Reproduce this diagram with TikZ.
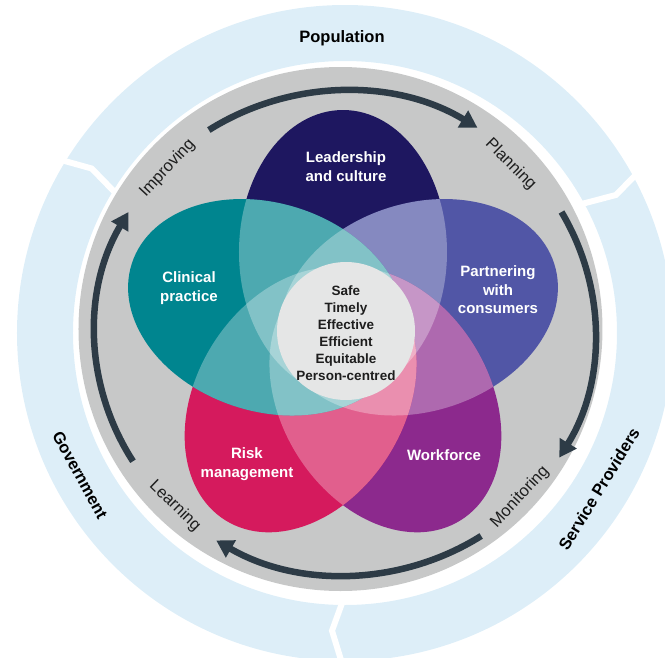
\documentclass[tikz,border=0pt]{standalone}
\usepackage{fontspec}
\setmainfont{Liberation Sans}
\usetikzlibrary{arrows.meta}
\definecolor{bb}{RGB}{221,238,248}
\definecolor{gg}{RGB}{199,200,200}
\definecolor{ar}{RGB}{45,59,70}
\definecolor{tx}{RGB}{30,30,30}
\definecolor{md}{RGB}{229,230,230}
\definecolor{ld}{RGB}{30,23,96}
\definecolor{pc}{RGB}{81,86,166}
\definecolor{wf}{RGB}{140,41,141}
\definecolor{rm}{RGB}{213,26,93}
\definecolor{cp}{RGB}{0,133,143}
\def\dist{80}
\def\ra{142}
\def\rb{104}
\newcommand{\petal}[3]{\fill[#2,rotate=#1] (\dist,0) ellipse [x radius=\ra, y radius=\rb];
	\foreach \j in {#3} {\begin{scope}
		\clip[rotate=#1] (\dist,0) ellipse [x radius=\ra, y radius=\rb];
		\fill[white,opacity=.3,rotate=\j] (\dist,0) ellipse [x radius=\ra, y radius=\rb];
	\end{scope}}}
\newcommand{\cycarrow}[2]{\draw[cyc] (2,-1) ++(#1:250 and 242) arc [start angle=#1, end angle=#2, x radius=250, y radius=242];}

\begin{document}
\begin{tikzpicture}[x=1pt,y=1pt,
	cyc/.style={ar,line width=6.5pt,-{Triangle[length=17pt,width=19pt]}},
	gap/.style={white,line width=6pt},
	lbl/.style={text=white,align=center,font=\bfseries\fontsize{15}{18.5}\selectfont},
	step lbl/.style={text=tx,font=\fontsize{16.5}{18}\selectfont},
	ring lbl/.style={text=black,font=\bfseries\fontsize{16.5}{19}\selectfont}]
\useasboundingbox (-343,-325) rectangle (322,332);

\fill[bb,even odd rule,shift={(2,-1)}] (0,0) circle [radius=328] (0,0) circle [radius=272];
\draw[gap,shift={(2,-1)}] (149:262) -- (147:302) -- (149:340);
\draw[gap,shift={(2,-1)}] (29:262) -- (27:304) -- (29:340);
\draw[gap,shift={(2,-1)}] (270:262) -- (267.5:298) -- (270:340);
\fill[gg] (-2.5,3) circle [radius=262];

\cycarrow{123}{58}
\cycarrow{30}{-31}
\cycarrow{-57}{-121}
\cycarrow{-148}{-210}

\petal{90}{ld}{}
\petal{18}{pc}{90}
\petal{-58}{wf}{90,18}
\petal{-122}{rm}{90,18,-58}
\petal{162}{cp}{90,18,-58,-122}
\fill[md] (3,1) circle [radius=69];

\node[lbl] (lead) at (3,165.5) {Leadership\\and culture};
\node[lbl] (clin) at (-154,44) {Clinical\\practice};
\node[lbl] (part) at (155,42) {Partnering\\with\\consumers};
\node[lbl] (risk) at (-96,-132) {Risk\\management};
\node[lbl] (work) at (101,-123) {Workforce};
\node[text=tx,align=center,font=\bfseries\fontsize{13.5}{17}\selectfont] (core) at (3,-1.5) {Safe\\Timely\\Effective\\Efficient\\Equitable\\Person-centred};

\node[step lbl,rotate=47] (impr) at (137:240) {Improving};
\node[step lbl,rotate=-45] (plan) at (45:237) {Planning};
\node[step lbl,rotate=47] (moni) at (-43:242) {Monitoring};
\node[step lbl,rotate=-44] (lear) at (-134:242) {Learning};

\node[ring lbl] (popu) at (-1,294) {Population};
\node[ring lbl,rotate=-61.5] (govt) at (-263,-143) {Government};
\node[ring lbl,rotate=58.5] (serv) at (256,-157) {Service Providers};
\end{tikzpicture}
\end{document}
